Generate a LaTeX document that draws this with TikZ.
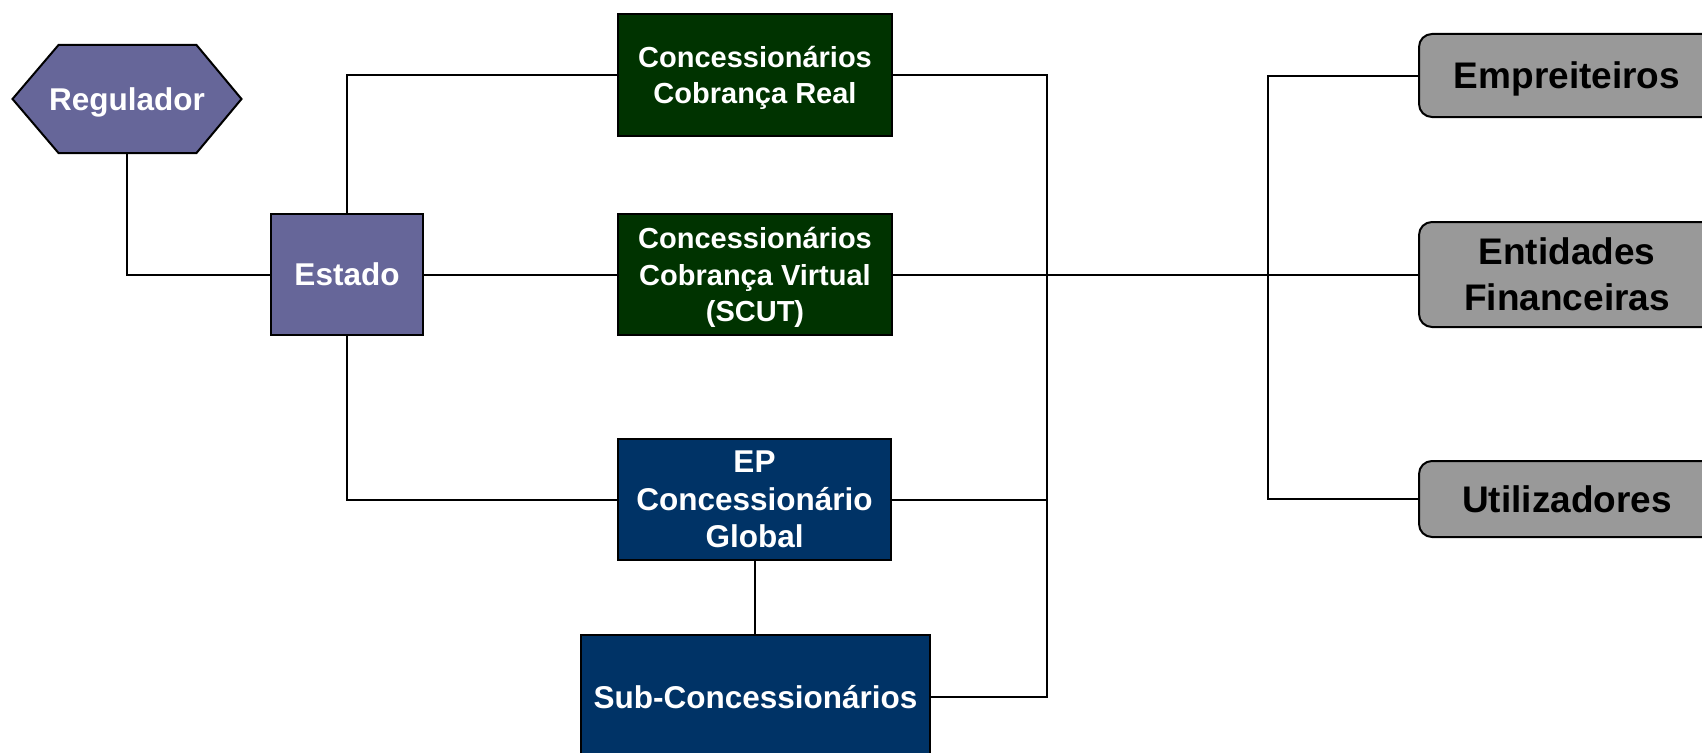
\documentclass[tikz,border=0pt]{standalone}
\usepackage{fontspec}
\setmainfont{Liberation Sans}
\usetikzlibrary{backgrounds}
\definecolor{lav}{HTML}{666699}
\definecolor{dgreen}{HTML}{003300}
\definecolor{dblue}{HTML}{003366}
\definecolor{gbox}{HTML}{999999}
\begin{document}
\begin{tikzpicture}[x=1pt,y=-1pt,
  box/.style={draw=black, line width=2pt, text=white, font=\bfseries, align=center, inner sep=0pt},
  greenbox/.style={box, fill=dgreen, minimum width=274pt, minimum height=121pt, text depth=0pt, font=\bfseries\fontsize{29}{36.5}\selectfont},
  bluebox/.style={box, fill=dblue, font=\bfseries\fontsize{31.5}{37.5}\selectfont},
  lavbox/.style={box, fill=lav, font=\bfseries\fontsize{31.5}{37.5}\selectfont},
  graybox/.style={draw=black, line width=2pt, fill=gbox, text=black, rounded corners=13pt, align=center, inner sep=0pt, minimum width=296pt, font=\bfseries\fontsize{37}{46.5}\selectfont},
  link/.style={draw=black, line width=2pt}]
\useasboundingbox (0,0) rectangle (1702,752);
\clip (0,0) rectangle (1702,752);

% nodes
\node[lavbox, draw=none, fill=none, minimum width=227pt, minimum height=106pt, text depth=0pt] (reg) at (127,99) {Regulador};
\node[lavbox, minimum width=152pt, minimum height=121pt] (est) at (347,274.5) {Estado};
\node[greenbox] (cr) at (755,75) {Concessionários\\Cobrança Real};
\node[greenbox] (cv) at (755,274.5) {Concessionários\\Cobrança Virtual\\(SCUT)};
\node[bluebox, minimum width=273pt, minimum height=121pt] (ep) at (754.5,499.5) {EP\\Concessionário\\Global};
\node[bluebox, minimum width=349pt, minimum height=124pt] (sub) at (755.5,697) {Sub-Concessionários};
\node[graybox, minimum height=83pt, text depth=0pt] (emp) at (1567,75.5) {Empreiteiros};
\node[graybox, minimum height=105pt] (ent) at (1567,274.5) {Entidades\\Financeiras};
\node[graybox, minimum height=76pt] (uti) at (1567,499) {Utilizadores};

\begin{scope}[on background layer]
\filldraw[fill=lav, draw=black, line width=2pt, line join=miter]
  (reg.west) -- ([xshift=46pt]reg.north west) -- ([xshift=-45pt]reg.north east)
  -- (reg.east) -- ([xshift=-45pt]reg.south east) -- ([xshift=46pt]reg.south west) -- cycle;
\end{scope}

\coordinate (bus) at (1047,274.5);
\coordinate (rbus) at (1268,274.5);

% connectors
\draw[link] (reg.south) |- (est.west);
\draw[link] (est.north) |- (cr.west);
\draw[link] (est.east) -- (cv.west);
\draw[link] (est.south) |- (ep.west);
\draw[link] (ep.south) -- (ep.south |- sub.north);
\draw[link] (cr.east) -| (bus) |- (sub.east);
\draw[link] (ep.east) -- (ep.east -| bus);
\draw[link] (cv.east) -- (ent.west);
\draw[link] (emp.west) -| (rbus) |- (uti.west);
\end{tikzpicture}
\end{document}
